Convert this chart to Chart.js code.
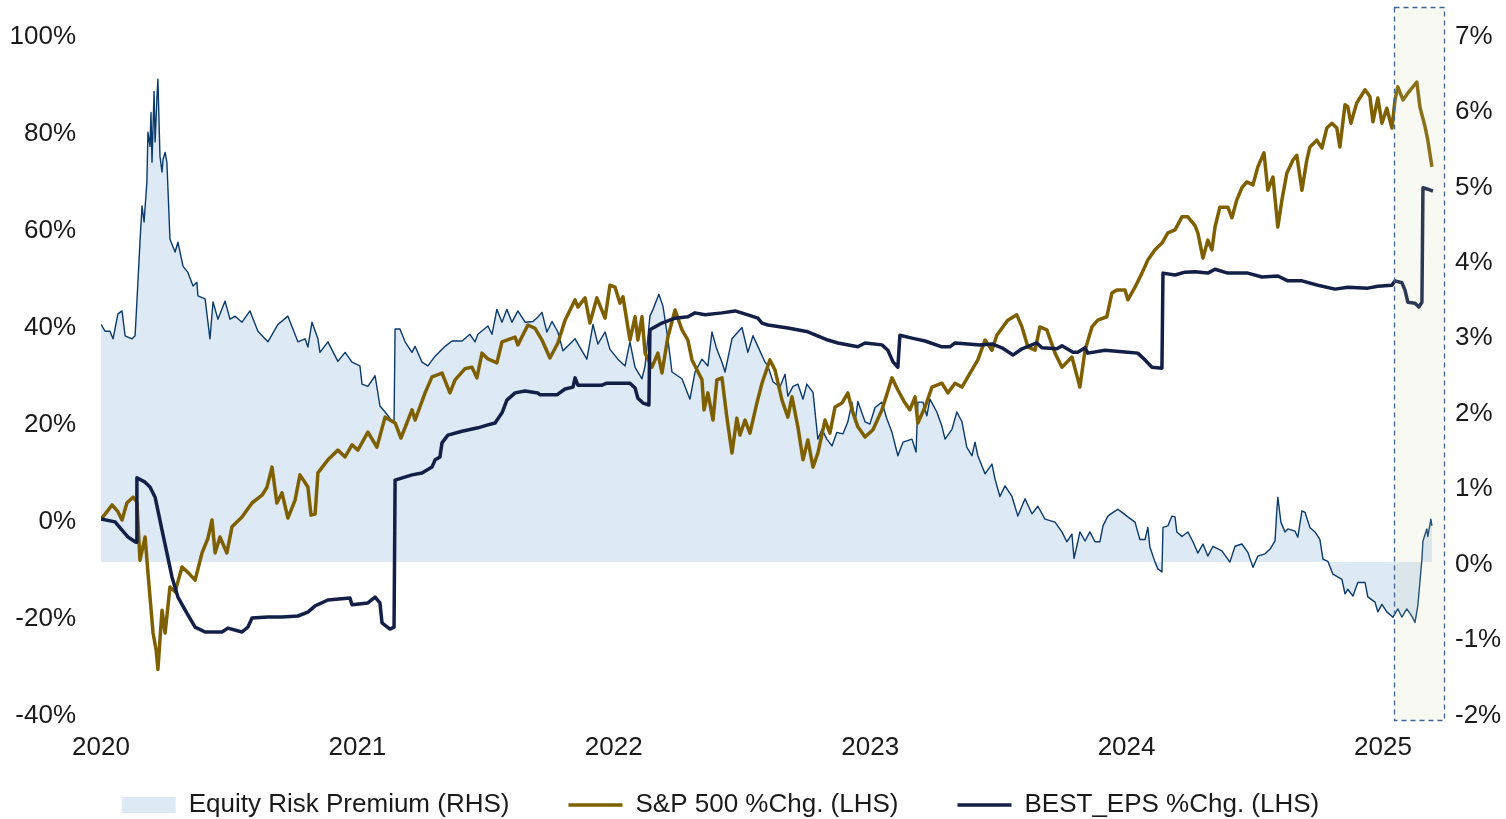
<!DOCTYPE html>
<html>
<head>
<meta charset="utf-8">
<title>Equity Risk Premium vs S&amp;P 500 and BEST_EPS</title>
<script src="https://cdn.jsdelivr.net/npm/chart.js@4.4.1/dist/chart.umd.min.js"></script>
<style>
html, body { margin: 0; padding: 0; background: #fff; }
#wrap { width: 1506px; height: 819px; }
</style>
</head>
<body>
<div id="wrap"><canvas id="erpChart"></canvas></div>
<script>
// dates are decimal years

// S&P 500 % change since start of 2020 (LHS)
const spxDates = [
  2020.000,2020.016,2020.043,2020.066,2020.082,2020.101,2020.125,2020.140,2020.152,2020.172,
  2020.183,2020.203,2020.215,2020.222,2020.238,2020.250,2020.269,2020.289,2020.316,2020.339,
  2020.367,2020.394,2020.417,2020.433,2020.445,2020.464,2020.491,2020.511,2020.550,2020.589,
  2020.628,2020.647,2020.667,2020.686,2020.706,2020.729,2020.757,2020.776,2020.807,2020.819,
  2020.835,2020.846,2020.885,2020.924,2020.952,2020.979,2021.002,2021.041,2021.076,2021.108,
  2021.147,2021.170,2021.213,2021.225,2021.264,2021.291,2021.330,2021.361,2021.381,2021.420,
  2021.447,2021.466,2021.486,2021.509,2021.544,2021.564,2021.615,2021.626,2021.665,2021.693,
  2021.720,2021.751,2021.782,2021.810,2021.849,2021.860,2021.888,2021.907,2021.934,2021.966,
  2021.985,2022.005,2022.024,2022.036,2022.063,2022.083,2022.094,2022.110,2022.122,2022.149,
  2022.172,2022.188,2022.211,2022.239,2022.266,2022.289,2022.305,2022.344,2022.352,2022.367,
  2022.387,2022.402,2022.422,2022.441,2022.461,2022.480,2022.492,2022.512,2022.531,2022.558,
  2022.578,2022.609,2022.629,2022.656,2022.679,2022.695,2022.718,2022.738,2022.757,2022.777,
  2022.796,2022.824,2022.843,2022.863,2022.890,2022.913,2022.929,2022.952,2022.980,2023.011,
  2023.046,2023.085,2023.108,2023.136,2023.155,2023.175,2023.186,2023.214,2023.241,2023.280,
  2023.303,2023.331,2023.358,2023.381,2023.420,2023.448,2023.475,2023.494,2023.537,2023.572,
  2023.592,2023.615,2023.643,2023.662,2023.689,2023.721,2023.748,2023.787,2023.818,2023.838,
  2023.865,2023.888,2023.923,2023.943,2023.962,2023.994,2024.005,2024.033,2024.060,2024.083,
  2024.111,2024.138,2024.161,2024.189,2024.216,2024.239,2024.267,2024.278,2024.298,2024.317,
  2024.333,2024.345,2024.364,2024.395,2024.411,2024.430,2024.450,2024.469,2024.493,2024.512,
  2024.536,2024.551,2024.571,2024.590,2024.606,2024.625,2024.649,2024.664,2024.684,2024.703,
  2024.715,2024.742,2024.762,2024.781,2024.801,2024.820,2024.832,2024.852,2024.863,2024.875,
  2024.898,2024.930,2024.949,2024.961,2024.980,2024.996,2025.015,2025.035,2025.047,2025.058,
  2025.078,2025.097,2025.132,2025.144,2025.164,2025.175,2025.191
];
const spxValues = [
  0,1.0,2.9,1.5,-0.2,3.3,4.5,3.5,-8.5,-3.7,
  -11,-23.5,-27,-31,-18.8,-23.5,-14,-15,-9.9,-11,
  -12.6,-7,-4,-0.2,-7,-3.7,-7,-1.6,0.4,3.3,
  4.9,6.5,10.7,3.3,5.4,0.2,3.9,9.1,6.6,0.8,
  1.0,9.5,12.2,14.2,12.8,15.3,14.2,17.9,14.8,21,
  19.8,16.7,22.5,20.4,26,29.3,30.1,26,28.7,31,
  31.3,29.1,34.2,33,32.2,36.5,37.5,35.9,40,39.3,
  36.9,33.2,36.3,41,45.2,43.7,45.6,40.4,45.6,41.4,
  48.2,47.8,44.5,45.8,36.9,41.7,36.9,41.7,34.2,31.3,
  34.2,30.1,37.5,43.1,39,36.9,32.8,28.7,22.5,26,
  20.4,28.7,29.1,21,13.6,20.8,17.3,20.4,17.7,23.9,
  28,32.8,30.7,24.5,21,25.2,19,12.2,16.3,10.7,
  13.6,20.4,17.7,23.1,23.9,26,22.5,19,16.9,18.4,
  22.5,29.1,26.6,23.9,22.5,25.2,19.8,23.1,27.2,28,
  26,28,27.2,29.3,32.8,36.9,34.8,37.9,41,42.1,
  39.6,35.5,34.8,39.6,39,34.2,31.3,33.4,27.2,34.8,
  39.6,41,41.7,46.6,47.2,47.2,45.2,47.8,50.7,53.4,
  55.5,56.9,59,59.6,62.3,62.3,60.5,59,53.8,57.5,
  55.5,60.2,64.3,64.3,62.1,65.8,68.3,69.5,68.9,72.6,
  75.5,67.8,70.5,60.2,65.8,71.3,74,75,67.8,74,
  76.7,78.1,76.5,80.6,81.6,80.6,76.7,85.4,85,81.6,
  85.8,88.5,87.1,81.9,86.8,81.6,84.7,80.6,86.4,89.1,
  86.4,87.8,90.1,85,80.9,78.1,72.6
];

// BEST_EPS % change (LHS)
const epsDates = [
  2020.000,2020.055,2020.082,2020.105,2020.133,2020.137,2020.140,2020.172,2020.191,2020.211,
  2020.238,2020.257,2020.277,2020.300,2020.335,2020.367,2020.406,2020.472,2020.495,2020.550,
  2020.573,2020.589,2020.651,2020.706,2020.768,2020.807,2020.835,2020.885,2020.971,2020.979,
  2021.041,2021.069,2021.088,2021.096,2021.127,2021.143,2021.147,2021.213,2021.252,2021.291,
  2021.303,2021.322,2021.330,2021.353,2021.408,2021.470,2021.509,2021.537,2021.564,2021.583,
  2021.615,2021.654,2021.704,2021.712,2021.778,2021.810,2021.841,2021.849,2021.860,2021.954,
  2021.973,2022.063,2022.083,2022.094,2022.114,2022.137,2022.141,2022.188,2022.239,2022.289,
  2022.317,2022.356,2022.422,2022.473,2022.523,2022.562,2022.578,2022.601,2022.679,2022.757,
  2022.835,2022.874,2022.952,2022.980,2023.046,2023.069,2023.089,2023.108,2023.116,2023.163,
  2023.214,2023.280,2023.311,2023.331,2023.381,2023.428,2023.475,2023.514,2023.557,2023.592,
  2023.650,2023.670,2023.728,2023.748,2023.791,2023.810,2023.838,2023.849,2023.916,2024.005,
  2024.044,2024.072,2024.099,2024.138,2024.142,2024.189,2024.228,2024.267,2024.317,2024.345,
  2024.395,2024.473,2024.528,2024.590,2024.629,2024.684,2024.746,2024.813,2024.863,2024.941,
  2024.980,2025.035,2025.047,2025.074,2025.086,2025.097,2025.125,2025.140,2025.152,2025.156,
  2025.175,2025.195
];
const epsValues = [
  0,-0.6,-2.3,-3.7,-4.7,-4.8,8.5,7.6,6.6,4.5,
  -2.3,-7,-12,-16.1,-19.4,-22.3,-23.3,-23.3,-22.5,-23.3,
  -22.3,-20.4,-20.2,-20.2,-20,-19.2,-17.9,-16.7,-16.3,-17.7,
  -17.3,-16.1,-17.3,-21.4,-22.7,-22.3,8,9.1,9.5,10.7,
  12.2,12.8,15.7,17.3,18.1,18.8,19.4,19.8,21.9,24.5,
  26,26.4,26,25.6,25.6,26.8,27.2,29.1,27.6,27.6,
  28,28,27,24.9,23.9,23.5,39,40.4,41.4,41.7,
  42.5,42.1,42.5,42.9,42.1,41.4,40.4,40,39.4,38.6,
  36.9,36.3,35.5,36.3,35.9,34.8,32.4,31.3,37.9,37.3,
  36.7,35.5,35.5,36.3,36.1,35.9,36.1,35.3,33.8,35.1,
  36.3,35.3,35.1,35.7,34.4,34.4,35.3,34.2,34.8,34.4,
  34.2,32.8,31.3,31.1,50.7,50.3,50.9,51.0,50.7,51.5,
  50.7,50.7,49.9,50.1,49.1,49.1,48.2,47.4,47.8,47.6,
  48,48.2,49.1,48.7,47.2,44.7,44.5,43.7,44.7,68.3,
  68,67.6
];

// Equity risk premium, % (RHS)
const erpDates = [
  2020.000,2020.016,2020.035,2020.047,2020.066,2020.082,2020.094,2020.121,2020.133,2020.144,
  2020.152,2020.160,2020.168,2020.179,2020.183,2020.191,2020.195,2020.199,2020.207,2020.211,
  2020.218,2020.222,2020.230,2020.238,2020.242,2020.250,2020.257,2020.269,2020.289,2020.300,
  2020.320,2020.339,2020.359,2020.374,2020.378,2020.406,2020.425,2020.437,2020.456,2020.484,
  2020.503,2020.523,2020.550,2020.581,2020.612,2020.651,2020.690,2020.729,2020.768,2020.796,
  2020.807,2020.823,2020.846,2020.854,2020.885,2020.924,2020.952,2020.979,2021.010,2021.018,
  2021.041,2021.069,2021.088,2021.108,2021.135,2021.143,2021.147,2021.166,2021.186,2021.213,
  2021.225,2021.252,2021.275,2021.303,2021.342,2021.369,2021.408,2021.439,2021.459,2021.470,
  2021.509,2021.525,2021.544,2021.564,2021.583,2021.603,2021.626,2021.654,2021.685,2021.704,
  2021.720,2021.739,2021.759,2021.782,2021.802,2021.849,2021.876,2021.895,2021.919,2021.938,
  2021.966,2021.985,2022.016,2022.044,2022.063,2022.083,2022.110,2022.122,2022.141,2022.153,
  2022.176,2022.192,2022.211,2022.227,2022.266,2022.297,2022.317,2022.344,2022.367,2022.383,
  2022.402,2022.422,2022.434,2022.461,2022.500,2022.523,2022.543,2022.562,2022.590,2022.601,
  2022.621,2022.648,2022.668,2022.679,2022.699,2022.718,2022.738,2022.753,2022.777,2022.796,
  2022.812,2022.831,2022.851,2022.870,2022.894,2022.913,2022.929,2022.941,2022.952,2022.980,
  2022.999,2023.019,2023.046,2023.065,2023.085,2023.108,2023.128,2023.163,2023.179,2023.186,
  2023.206,2023.221,2023.233,2023.260,2023.280,2023.292,2023.319,2023.338,2023.358,2023.377,
  2023.397,2023.409,2023.420,2023.448,2023.475,2023.487,2023.506,2023.526,2023.553,2023.576,
  2023.604,2023.631,2023.654,2023.682,2023.721,2023.748,2023.767,2023.787,2023.795,2023.806,
  2023.818,2023.838,2023.857,2023.877,2023.896,2023.908,2023.927,2023.947,2023.966,2023.986,
  2024.005,2024.033,2024.052,2024.072,2024.083,2024.091,2024.111,2024.122,2024.138,2024.142,
  2024.161,2024.177,2024.189,2024.196,2024.216,2024.239,2024.259,2024.278,2024.298,2024.317,
  2024.337,2024.372,2024.403,2024.423,2024.450,2024.473,2024.493,2024.512,2024.540,2024.559,
  2024.579,2024.586,2024.590,2024.602,2024.618,2024.629,2024.657,2024.668,2024.684,2024.696,
  2024.715,2024.735,2024.754,2024.766,2024.785,2024.805,2024.840,2024.852,2024.863,2024.883,
  2024.902,2024.930,2024.941,2024.969,2024.980,2024.996,2025.015,2025.039,2025.058,2025.074,
  2025.093,2025.113,2025.125,2025.136,2025.152,2025.156,2025.171,2025.175,2025.187,2025.191
];
const erpValues = [
  3.15,3.06,3.06,2.96,3.29,3.33,3.0,2.96,3.0,3.71,
  4.24,4.72,4.51,5.04,5.70,5.51,5.96,5.30,6.24,5.57,
  6.14,6.40,5.38,5.17,5.34,5.43,5.30,4.28,4.11,4.24,
  3.92,3.84,3.66,3.71,3.53,3.49,2.96,3.45,3.22,3.46,
  3.22,3.26,3.18,3.33,3.06,2.92,3.15,3.26,2.92,2.96,
  2.85,3.18,2.96,2.78,2.92,2.66,2.78,2.65,2.60,2.36,
  2.33,2.47,2.07,1.99,1.87,1.86,3.09,3.09,2.92,2.78,
  2.86,2.65,2.60,2.73,2.86,2.93,2.93,3.02,2.92,3.02,
  3.13,3.02,3.35,3.18,3.35,3.18,3.33,3.18,3.19,3.25,
  3.31,3.05,3.19,3.05,2.80,2.96,2.80,2.69,3.15,2.89,
  3.05,2.82,2.69,2.60,2.92,2.58,2.43,2.60,3.26,3.35,
  3.55,3.39,2.96,2.52,2.43,2.16,2.52,2.69,2.60,3.05,
  2.82,2.65,2.52,2.96,3.11,2.78,3.0,2.86,2.65,2.60,
  2.39,2.32,2.49,2.20,2.33,2.36,2.16,2.36,2.25,1.63,
  1.76,1.63,1.54,1.72,1.70,1.86,2.12,1.86,2.13,1.86,
  1.83,2.05,2.12,1.90,1.72,1.41,1.59,1.63,1.46,2.12,
  2.12,1.94,2.16,1.99,1.80,1.63,1.76,1.99,1.86,1.52,
  1.41,1.59,1.41,1.17,1.30,1.10,0.87,1.01,0.87,0.61,
  0.84,0.64,0.74,0.57,0.53,0.40,0.27,0.37,0.05,0.21,
  0.40,0.28,0.40,0.27,0.27,0.48,0.61,0.66,0.70,0.65,
  0.60,0.53,0.30,0.30,0.46,0.20,0.0,-0.09,-0.13,0.46,
  0.48,0.61,0.60,0.40,0.34,0.40,0.27,0.12,0.24,0.08,
  0.21,0.15,0.0,0.21,0.24,0.13,-0.07,0.08,0.11,0.17,
  0.28,0.68,0.86,0.53,0.40,0.44,0.41,0.33,0.68,0.66,
  0.46,0.40,0.30,0.04,0.01,-0.16,-0.23,-0.42,-0.36,-0.45,
  -0.27,-0.27,-0.46,-0.53,-0.66,-0.56,-0.66,-0.73,-0.62,-0.73,
  -0.62,-0.72,-0.80,-0.58,0.04,0.28,0.44,0.34,0.57,0.48
];

const yearTicks = [2020, 2021, 2022, 2023, 2024, 2025];
const lhsTicks = [-40, -20, 0, 20, 40, 60, 80, 100];
const rhsTicks = [-2, -1, 0, 1, 2, 3, 4, 5, 6, 7];

const xStart = 2020;
const xEnd = 2025.242;
// dashed box marking the latest weeks
const highlightFrom = 2025.043;
const highlightTo = 2025.242;

const toPoints = (dates, vals) => dates.map((d, i) => ({ x: d, y: vals[i] }));
const asTicks = arr => arr.map(v => ({ value: v }));

const highlightBox = {
  id: 'highlightBox',
  afterDatasetsDraw(chart) {
    const { ctx, chartArea } = chart;
    const x = chart.scales.x;
    const left = Math.round(x.getPixelForValue(highlightFrom)) + 0.5;
    const right = Math.round(x.getPixelForValue(highlightTo)) - 0.5;
    const top = chartArea.top - 27 + 0.5;
    const bottom = chartArea.bottom + 8 - 0.5;
    ctx.save();
    ctx.fillStyle = 'rgba(200,215,170,0.15)';
    ctx.fillRect(left, top, right - left, bottom - top);
    ctx.setLineDash([5, 4]);
    ctx.lineWidth = 1.3;
    ctx.strokeStyle = '#3f6590';
    ctx.strokeRect(left, top, right - left, bottom - top);
    ctx.restore();
  }
};

// legend in the original sits left of centre, just under the year labels
const legendNudge = {
  id: 'legendNudge',
  afterLayout(chart) {
    const lg = chart.legend;
    if (!lg) return;
    lg.left -= 35; lg.right -= 35;
    lg.top -= 30;
    lg.bottom = chart.height;
  }
};

Chart.defaults.font.family = '"Liberation Sans", Arial, sans-serif';
Chart.defaults.font.size = 26;
Chart.defaults.color = '#1a1a1a';

new Chart(document.getElementById('erpChart'), {
  type: 'line',
  data: {
    datasets: [
      {
        label: 'Equity Risk Premium (RHS)',
        data: toPoints(erpDates, erpValues),
        yAxisID: 'y1',
        borderColor: '#0a3a6b',
        borderWidth: 1.4,
        backgroundColor: '#dde9f5',
        fill: { value: 0 },
        pointRadius: 0,
        pointStyle: 'rect',
        order: 2
      },
      {
        label: 'S&P 500 %Chg. (LHS)',
        data: toPoints(spxDates, spxValues),
        yAxisID: 'y',
        borderColor: '#7f6000',
        backgroundColor: '#7f6000',
        borderWidth: 3.5,
        pointRadius: 0,
        pointStyle: 'line',
        order: 1
      },
      {
        label: 'BEST_EPS %Chg. (LHS)',
        data: toPoints(epsDates, epsValues),
        yAxisID: 'y',
        borderColor: '#131f47',
        backgroundColor: '#131f47',
        borderWidth: 3.5,
        pointRadius: 0,
        pointStyle: 'line',
        order: 0
      }
    ]
  },
  options: {
    responsive: true,
    maintainAspectRatio: false,
    animation: false,
    events: [],
    devicePixelRatio: 1,
    layout: { padding: { left: 10, right: 5, top: 34, bottom: 0 } },
    elements: { line: { tension: 0, borderJoinStyle: 'round' } },
    scales: {
      x: {
        type: 'linear',
        bounds: 'data',
        min: xStart,
        max: xEnd,
        grid: { display: false, drawTicks: false },
        border: { display: false },
        afterBuildTicks: s => { s.ticks = asTicks(yearTicks); },
        afterFit: s => { s.height = 50; },
        ticks: { padding: 19, maxRotation: 0, autoSkip: false, callback: v => String(v) }
      },
      y: {
        position: 'left',
        bounds: 'data',
        min: -40,
        max: 100,
        grid: { display: false, drawTicks: false },
        border: { display: false },
        afterBuildTicks: s => { s.ticks = asTicks(lhsTicks); },
        afterFit: s => { s.width = 91; s.paddingTop = 0; s.paddingBottom = 0; },
        ticks: { padding: 25, labelOffset: 2.5, callback: v => v + '%' }
      },
      y1: {
        position: 'right',
        bounds: 'data',
        min: -2,
        max: 7,
        grid: { display: false, drawTicks: false },
        border: { display: false },
        afterBuildTicks: s => { s.ticks = asTicks(rhsTicks); },
        afterFit: s => { s.width = 56; s.paddingTop = 0; s.paddingBottom = 0; },
        ticks: { padding: 10, labelOffset: 2.5, callback: v => v + '%' }
      }
    },
    plugins: {
      tooltip: { enabled: false },
      legend: {
        position: 'bottom',
        maxHeight: 56,
        labels: {
          usePointStyle: true,
          pointStyleWidth: 54,
          boxHeight: 16,
          padding: 59,
          color: '#1a1a1a',
          font: { size: 26 },
          sort: (a, b) => a.datasetIndex - b.datasetIndex,
          generateLabels(chart) {
            const items = Chart.defaults.plugins.legend.labels.generateLabels(chart);
            items.forEach(it => { if (it.datasetIndex === 0) it.lineWidth = 0; });
            return items;
          }
        }
      }
    }
  },
  plugins: [highlightBox, legendNudge]
});
</script>
</body>
</html>
